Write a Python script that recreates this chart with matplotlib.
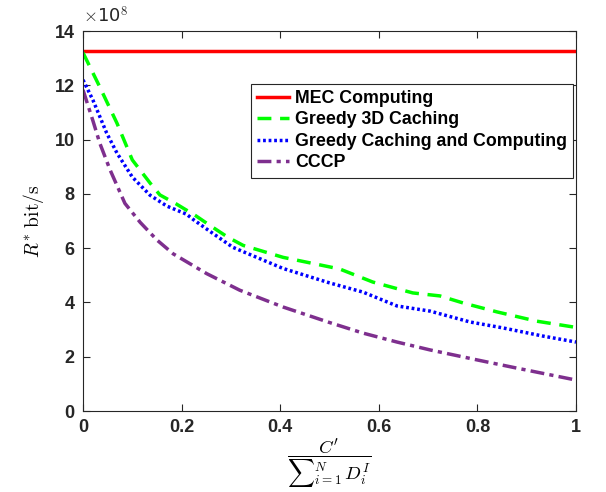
import matplotlib
matplotlib.use("Agg")
import matplotlib.pyplot as plt

plt.rcParams['font.family'] = ['Liberation Sans', 'DejaVu Sans']
plt.rcParams['font.weight'] = 'bold'
plt.rcParams['mathtext.fontset'] = 'cm'

# Data (values in units of 1e8 bit/s)
mec_x = [0.0, 1.0]
mec_y = [13.25, 13.25]

g3d_x = [0.0, 0.034, 0.069, 0.10, 0.136, 0.156, 0.189, 0.229, 0.258, 0.294, 0.325,
         0.406, 0.50, 0.521, 0.588, 0.669, 0.724, 0.771, 0.84, 0.92, 1.0]
g3d_y = [13.2, 11.94, 10.6, 9.25, 8.4, 7.96, 7.63, 7.19, 6.83, 6.4, 6.1,
         5.66, 5.31, 5.23, 4.75, 4.35, 4.24, 3.98, 3.65, 3.31, 3.08]

gcc_x = [0.0, 0.02, 0.048, 0.069, 0.10, 0.136, 0.17, 0.21, 0.224, 0.255, 0.304,
         0.406, 0.50, 0.568, 0.637, 0.704, 0.785, 0.852, 0.933, 1.0]
gcc_y = [12.2, 11.46, 10.24, 9.5, 8.62, 7.95, 7.55, 7.25, 7.05, 6.65, 6.03,
         5.25, 4.72, 4.38, 3.87, 3.68, 3.28, 3.06, 2.76, 2.54]

cccp_x = [0.0, 0.02, 0.034, 0.055, 0.085, 0.116, 0.15, 0.183, 0.251, 0.318, 0.406,
          0.50, 0.568, 0.637, 0.704, 0.80, 0.88, 1.0]
cccp_y = [11.83, 10.7, 9.87, 8.88, 7.65, 6.95, 6.3, 5.79, 5.06, 4.45, 3.83,
          3.26, 2.87, 2.54, 2.25, 1.88, 1.58, 1.14]

labels = ['MEC Computing', 'Greedy 3D Caching', 'Greedy Caching and Computing', 'CCCP']
xticks = [0, 0.2, 0.4, 0.6, 0.8, 1]
xticklabels = ['0', '0.2', '0.4', '0.6', '0.8', '1']
yticks = [0, 2, 4, 6, 8, 10, 12, 14]

fig = plt.figure(figsize=(6.06, 4.92), dpi=100)
ax = fig.add_axes([83/606, 1 - 411/492, 493/606, 380/492])

ax.plot(mec_x, mec_y, color=(1, 0, 0), lw=2.5, label=labels[0])
ax.plot(g3d_x, g3d_y, color=(0, 1, 0), lw=2.5, ls=(0, (4, 2.5)), label=labels[1])
ax.plot(gcc_x, gcc_y, color=(0, 0, 1), lw=2.5, ls=(0, (0.8, 0.8)), label=labels[2])
ax.plot(cccp_x, cccp_y, color=(0.494, 0.184, 0.556), lw=2.5,
        ls=(0, (4, 1.5, 1.2, 1.5)), label=labels[3])

ax.set_xlim(0, 1)
ax.set_ylim(0, 14)
ax.set_xticks(xticks)
ax.set_xticklabels(xticklabels)
ax.set_yticks(yticks)
ax.tick_params(direction='in', top=True, right=True, length=5, width=0.8,
               labelsize=13, colors=(0.15, 0.15, 0.15), pad=6)
for lab in ax.get_xticklabels() + ax.get_yticklabels():
    lab.set_fontweight('bold')
for s in ax.spines.values():
    s.set_color((0.15, 0.15, 0.15))
    s.set_linewidth(0.8)

ax.text(0.0, 1.012, r'$\times$10$^8$', transform=ax.transAxes, fontsize=13,
        fontweight='normal', ha='left', va='bottom', color=(0.15, 0.15, 0.15),
        family=['DejaVu Sans'])

ax.set_ylabel(r'$R^{*}\ \mathrm{bit/s}$', fontsize=14, labelpad=6)
ax.set_xlabel(r'$\dfrac{C^{\prime}}{{\sum}_{i=1}^{N}\,D_i^I}$', fontsize=13.5, labelpad=0)

leg = ax.legend(loc='upper right', bbox_to_anchor=(0.994, 0.861), fontsize=12.8,
                fancybox=False, edgecolor=(0.15, 0.15, 0.15), framealpha=1,
                handlelength=1.8, handletextpad=0.3, labelspacing=0.25,
                borderpad=0.35, borderaxespad=0)
leg.get_frame().set_linewidth(0.8)
for t in leg.get_texts():
    t.set_fontweight('bold')

fig.savefig('out.png', dpi=100)
